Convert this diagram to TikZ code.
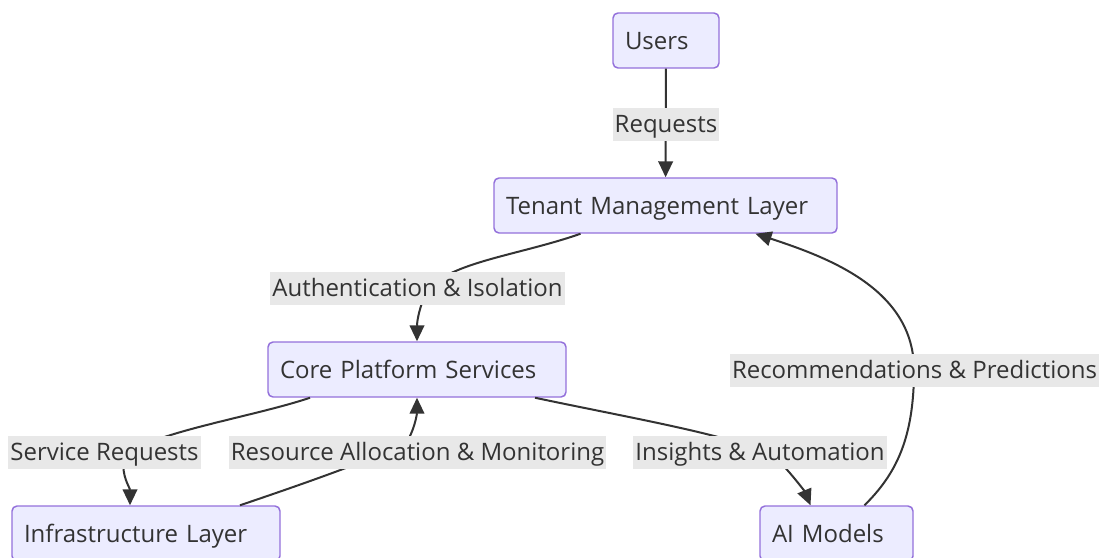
\documentclass[tikz,border=0pt]{standalone}
\usepackage{fontspec}
\setmainfont{Open Sans}
\usetikzlibrary{calc,arrows.meta}

\definecolor{boxfill}{HTML}{ECECFF}
\definecolor{boxline}{HTML}{9370DB}
\definecolor{lblfill}{HTML}{E8E8E8}
\definecolor{ink}{HTML}{333333}

\tikzset{
    box/.style={draw=boxline, fill=boxfill, line width=1.1pt, rounded corners=3.75pt,
        text=ink, text width=#1, align=left, inner xsep=9pt, minimum height=41.25pt,
        text height=16pt, text depth=1.8pt},
    lbl/.style={fill=lblfill, text=ink, inner xsep=1.5pt, inner ysep=0pt, minimum height=24.75pt,
        text height=15pt, text depth=2.2pt},
    link/.style={draw=ink, line width=1.5pt, -{Triangle[length=12pt,width=11pt]}}
}

\begin{document}
\begin{tikzpicture}[x=0.75pt, y=-0.75pt, font=\fontsize{18}{22}\selectfont]
    \useasboundingbox (0,0) rectangle (1102,557);
    \coordinate (U) at (666,40.5);
    \coordinate (T) at (665.5,205.5);
    \coordinate (C) at (417,369.5);
    \coordinate (I) at (146,533.5);
    \coordinate (M) at (836.5,533.5);
    \node[box=61.5pt] (users) at (U) {Users};
    \node[box=239.25pt] (tenant) at (T) {Tenant Management Layer};
    \node[box=205.5pt] (core) at (C) {Core Platform Services};
    \node[box=183pt] (infra) at (I) {Infrastructure Layer};
    \node[box=96.75pt] (ai) at (M) {AI Models};
    \draw[link] (users) -- (tenant);
    \draw[link] ($(tenant.south)+(-85,0)$) .. controls (520,255) and (450,262) .. (428,290)
        .. controls (419,306) and (417,322) .. (core.north);
    \draw[link] ($(core.south)+(-107,0)$) .. controls (250,418) and (135,435) .. (124,460)
        .. controls (121,475) and (130,488) .. ($(infra.north)+(-16,0)$);
    \draw[link] ($(infra.north)+(94,0)$) .. controls (300,485) and (395,452) .. (408,440)
        .. controls (416,425) and (417,412) .. (core.south);
    \draw[link] ($(core.south)+(118,0)$) .. controls (640,420) and (760,440) .. (780,462)
        .. controls (795,478) and (805,492) .. ($(ai.north)+(-26,0)$);
    \draw[link] ($(ai.north)+(28,0)$) .. controls (895,475) and (914,440) .. (914,370)
        .. controls (914,290) and (830,258) .. ($(tenant.south)+(90,0)$);
    \node[lbl] (req) at (666,124) {Requests};
    \node[lbl] (auth) at (417.5,288) {Authentication \& Isolation};
    \node[lbl] (srvreq) at (104.5,452) {Service Requests};
    \node[lbl] (resalloc) at (417.5,452) {Resource Allocation \& Monitoring};
    \node[lbl] (insight) at (760,452) {Insights \& Automation};
    \node[lbl] (recpred) at (914.5,370) {Recommendations \& Predictions};
\end{tikzpicture}
\end{document}
